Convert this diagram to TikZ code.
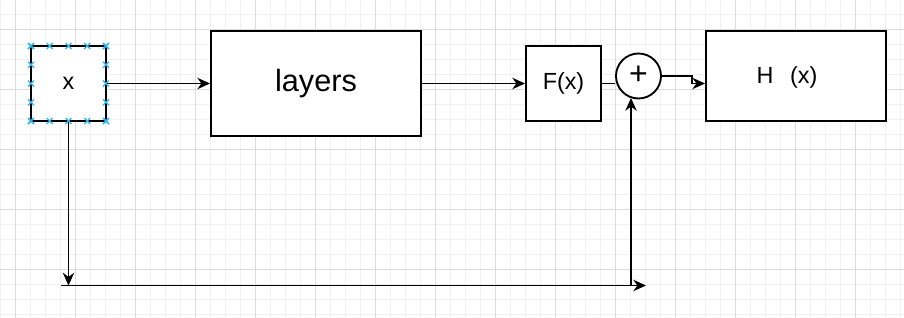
\documentclass[tikz,border=0pt]{standalone}
\usepackage{fontspec}
\setmainfont{Liberation Sans}
\usetikzlibrary{arrows.meta}
\definecolor{gridminor}{HTML}{F1F1F1}
\definecolor{gridmajor}{HTML}{DCDCDC}
\definecolor{selblue}{HTML}{29B6F2}
\begin{document}
\begin{tikzpicture}[x=0.75pt,y=-0.75pt,
  box/.style={draw=black, line width=1.4pt, fill=white, inner sep=0pt},
  sumnode/.style={draw=black, line width=1.4pt, fill=white, circle, inner sep=0pt, minimum size=33.75pt},
  conn/.style={draw=black, line width=1.4pt},
  arr/.style={conn, -{Stealth[length=9.5pt,width=8.5pt,inset=3pt]}},
  mid/.style={font=\fontsize{17.5}{20}\selectfont},
  big/.style={font=\fontsize{23}{27}\selectfont},
  selmark/.style={draw=selblue, line width=1pt}
]
\useasboundingbox (0,0) rectangle (904,318);
\fill[white] (0,0) rectangle (904,318);
% grid
\foreach \k in {0,...,61} \draw[gridminor, line width=0.75pt] (\k*15,0) -- (\k*15,318);
\foreach \k in {0,...,21} \draw[gridminor, line width=0.75pt] (0,14.5+\k*15) -- (904,14.5+\k*15);
\foreach \k in {0,...,15} \draw[gridmajor, line width=0.75pt] (15+\k*60,0) -- (15+\k*60,318);
\foreach \k in {0,...,5} \draw[gridmajor, line width=0.75pt] (0,29.5+\k*60) -- (904,29.5+\k*60);

% nodes
\node[box, minimum width=56.25pt, minimum height=56.25pt, mid] (xin) at (68.5,83.5) {x};
\node[box, minimum width=157.5pt, minimum height=78.75pt, big] (layers) at (316,83.5) {layers};
\node[box, minimum width=56.25pt, minimum height=56.25pt, mid] (F) at (563.5,83.5) {F(x)};
\node[sumnode, font=\fontsize{24}{26}\selectfont] (plus) at (638.5,76) {\raisebox{0.5pt}{+}};
\node[box, minimum width=135pt, minimum height=67.5pt] (H) at (796,76) {};
\node[mid, anchor=center] (Hlabel) at (787,77) {H\hspace{0.72em}(x)};

% connectors
\draw[arr] (xin.east) -- (layers.west);
\draw[arr] (layers.east) -- (F.west);
\draw[conn] (F.east) -- (F.east -| plus.west);
\draw[arr] (plus.east) -- ++(30,0) |- (H.west |- F.east);

\coordinate (bdown) at (68.5,285.5);
\coordinate (hl) at (61,285.5);
\coordinate (hr) at (646,285.5);
\coordinate (vb) at (631,285.5);
\draw[arr] (xin.south) -- (bdown);
\draw[arr] (hl) -- (hr);
\draw[arr] (vb) -- (vb |- plus.250);

% selection marks on x box
\foreach \t in {0,1,2,3,4} {
  \foreach \p in {(31+\t*18.75,46), (31+\t*18.75,121), (31,46+\t*18.75), (106,46+\t*18.75)} {
    \draw[selmark] \p ++(-3,-3) -- ++(6,6) \p ++(-3,3) -- ++(6,-6);
  }
}
\end{tikzpicture}
\end{document}
